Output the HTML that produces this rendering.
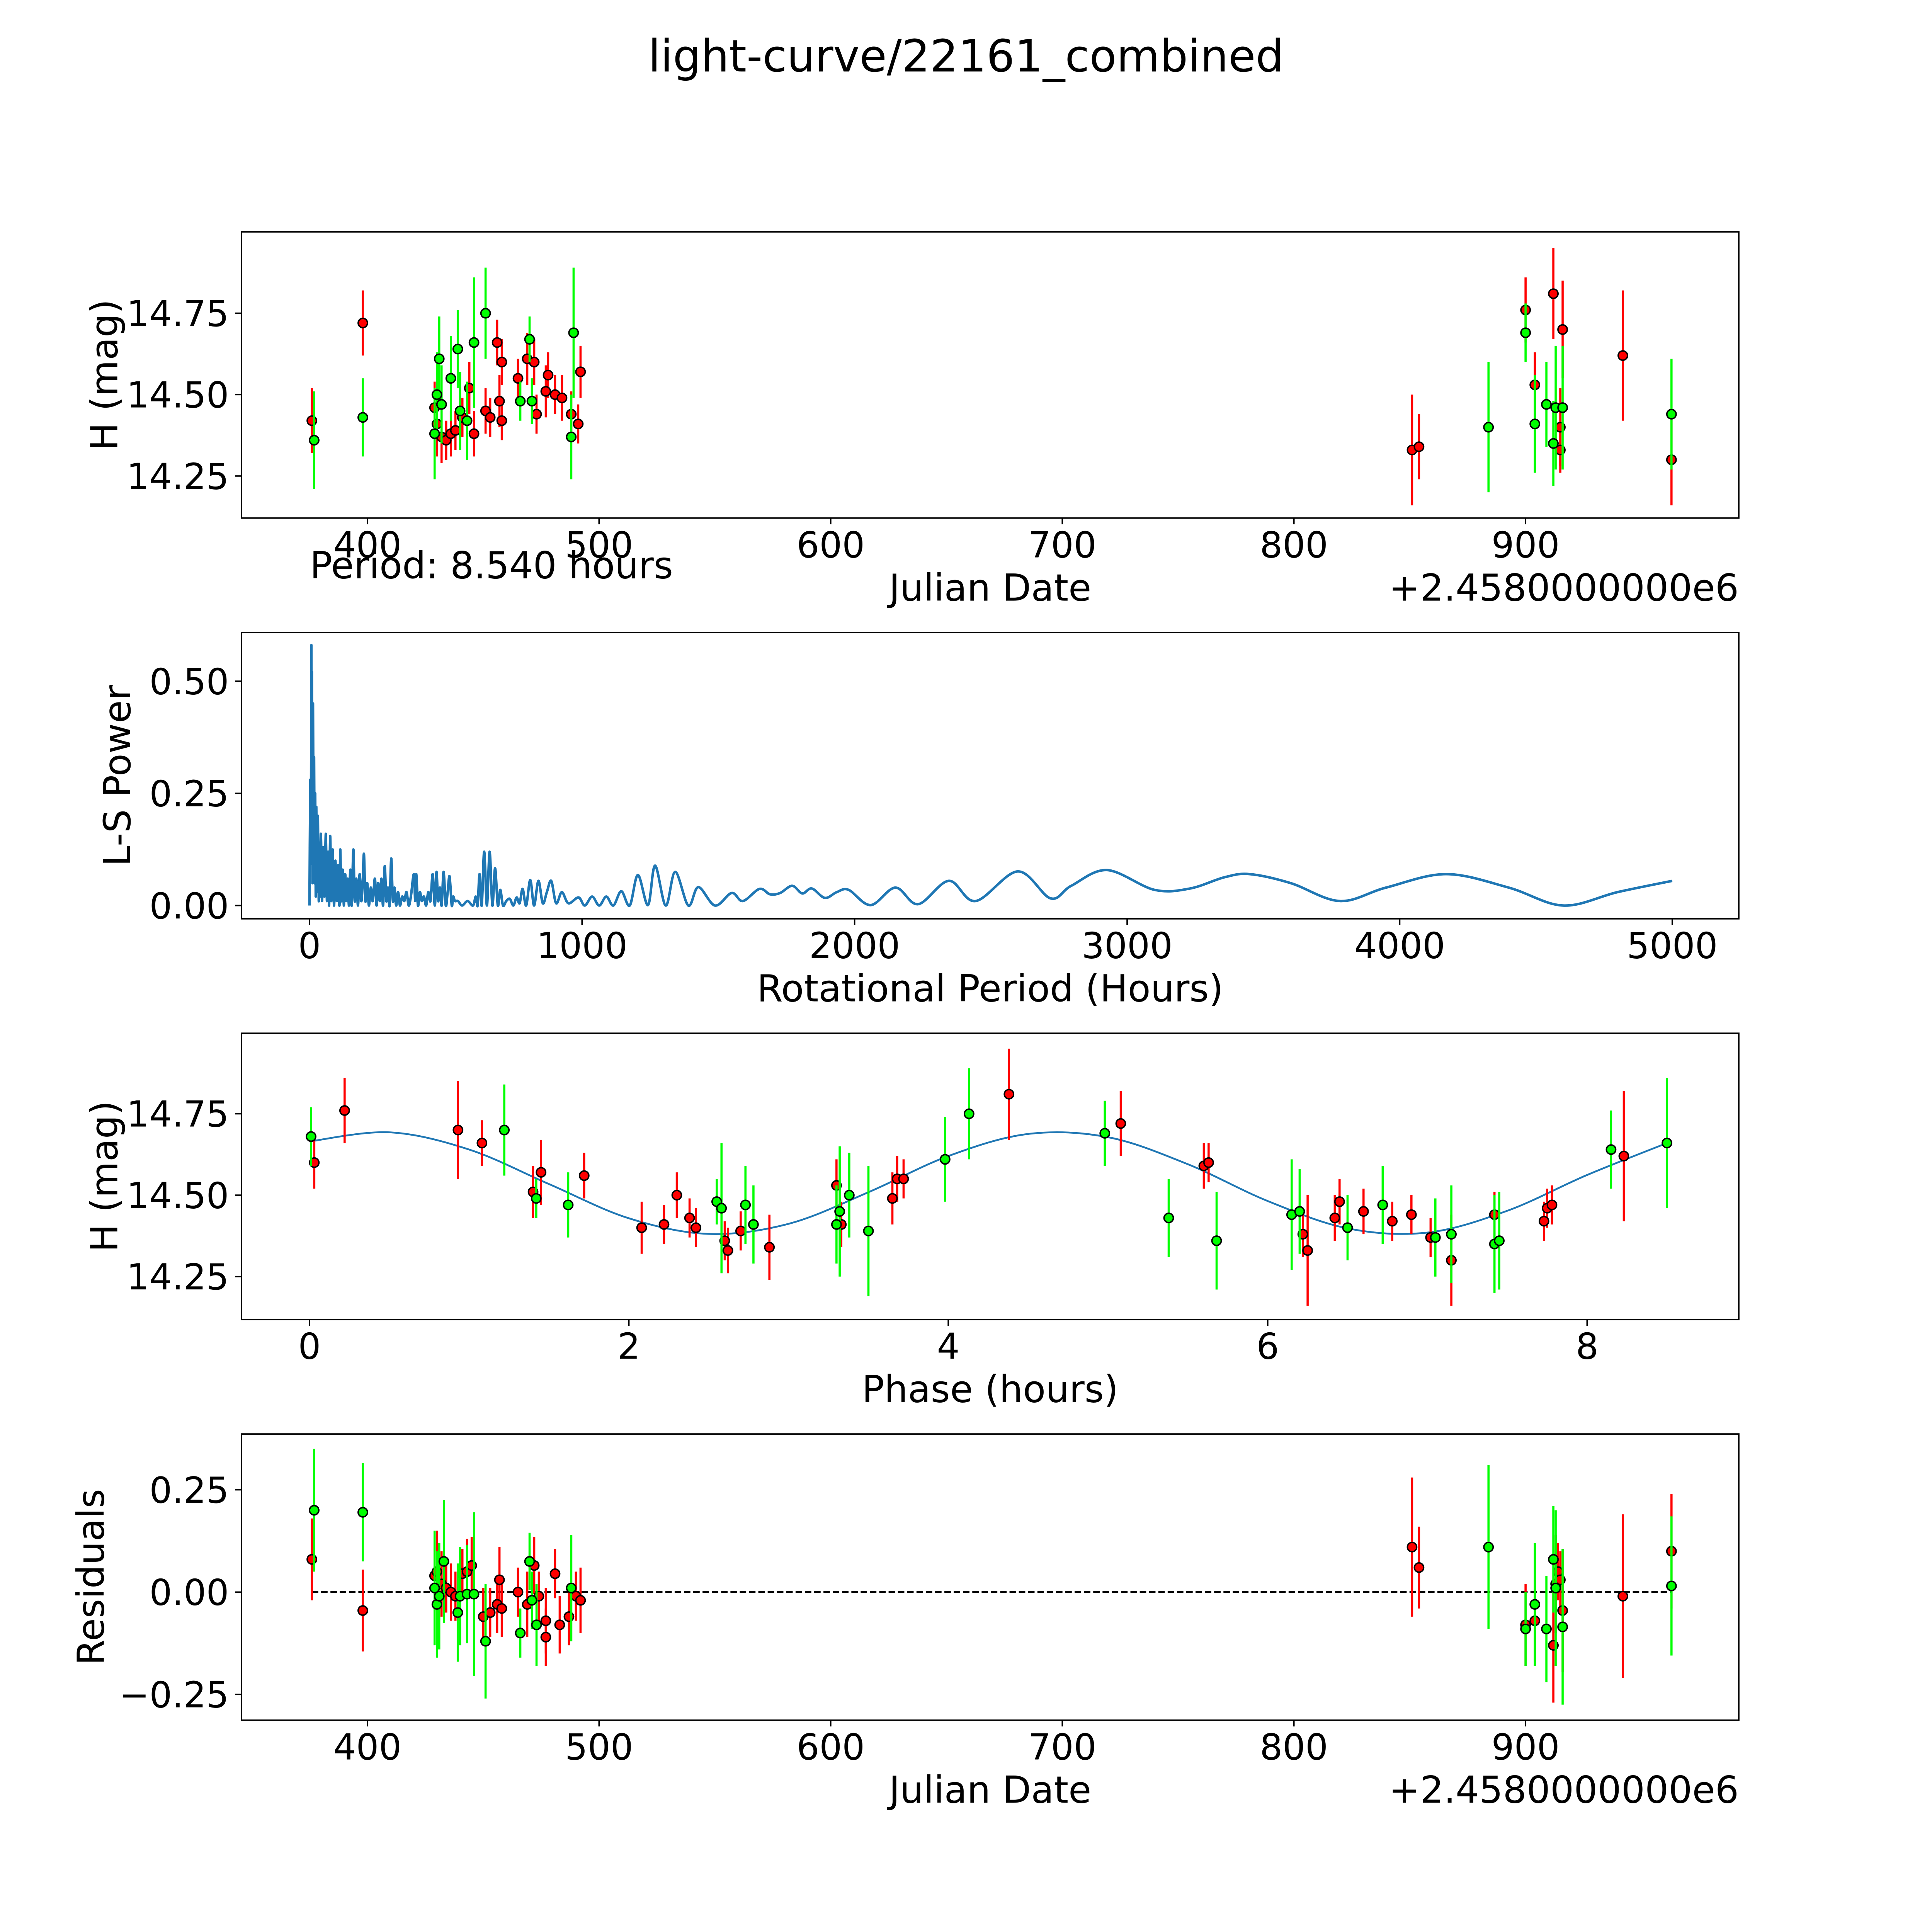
<!DOCTYPE html>
<html><head><meta charset="utf-8"><style>
html,body{margin:0;padding:0;background:#fff;overflow:hidden}
svg{display:block;width:100vw;height:100vh}
text{font-family:"DejaVu Sans","Liberation Sans",sans-serif;fill:#000}
</style></head><body>
<svg id="fig" xmlns="http://www.w3.org/2000/svg" viewBox="0 0 5400 5400" preserveAspectRatio="none">
<rect width="5400" height="5400" fill="#fff"/>
<text x="2700" y="200" font-size="124" text-anchor="middle">light-curve/22161_combined</text>
</svg>
<script>
// ---- Panel 1: light curve (JD offset, H mag, error) ----
const lcRedJd  = [376,398,429,430,432,434,436,438,441,444,446,451,453,456,457,458,458,465,469,472,473,477,478,481,484,488,491,492,851,854,900,904,912,915,916,915,942,963];
const lcRedMag = [14.42,14.72,14.46,14.41,14.37,14.36,14.38,14.39,14.43,14.52,14.38,14.45,14.43,14.66,14.48,14.60,14.42,14.55,14.61,14.60,14.44,14.51,14.56,14.50,14.49,14.44,14.41,14.57,14.33,14.34,14.76,14.53,14.81,14.40,14.70,14.33,14.62,14.30];
const lcRedErr = [.10,.10,.08,.10,.08,.06,.07,.06,.06,.08,.07,.07,.06,.07,.08,.07,.06,.06,.08,.07,.06,.08,.07,.06,.07,.07,.06,.08,.17,.10,.10,.10,.14,.12,.15,.07,.20,.14];
const lcGrnJd  = [377,398,429,430,431,432,436,439,440,443,446,451,466,470,471,488,489,884,900,904,909,912,913,916,963];
const lcGrnMag = [14.36,14.43,14.38,14.50,14.61,14.47,14.55,14.64,14.45,14.42,14.66,14.75,14.48,14.67,14.48,14.37,14.69,14.40,14.69,14.41,14.47,14.35,14.46,14.46,14.44];
const lcGrnErr = [.15,.12,.14,.13,.13,.12,.13,.12,.12,.12,.20,.14,.06,.07,.07,.13,.20,.20,.09,.15,.13,.13,.19,.19,.17];
const jdTicks = [400,500,600,700,800,900];
const magTicks = [14.25,14.50,14.75];
const magTickLabels = ["14.25","14.50","14.75"];

// ---- Panel 2: periodogram ----
const lsPeriod = [
0,3,5,7,8,9,11,13,15,17,
19,21,23,25,28,31,34,37,39,42,
46,50,55,60,64,68,72,76,80,85,
90,95,100,105,110,113,117,122,126,131,
135,140,145,150,155,161,166,172,178,184,
190,195,200,205,212,218,225,232,240,246,
252,258,264,270,276,282,288,294,300,306,
312,318,325,332,340,348,356,364,372,383,
388,392,398,405,412,420,428,436,444,452,
460,466,472,479,485,492,500,507,514,522,
527,534,545,560,580,600,610,617,624,632,
641,651,661,671,681,691,700,710,722,735,
748,760,771,782,795,810,824,840,856,871,
887,905,926,950,987,1010,1037,1063,1089,1115,
1144,1175,1205,1242,1268,1307,1342,1390,1427,1488,
1549,1590,1651,1690,1727,1771,1808,1843,1891,1935,
1978,2059,2150,2233,2346,2444,2599,2719,2795,2926,
3100,3231,3357,3450,3600,3780,3950,4170,4400,4600,
4800,5000];
const lsPower = [
0,0.28,0.1,0.58,0.2,0.52,0.05,0.45,0.12,0.33,
0.05,0.25,0.02,0.22,0.03,0.2,0.01,0.14,0.02,0.16,
0.01,0.13,0.02,0.16,0.01,0.12,0.0,0.155,0.01,0.125,
0.0,0.10,0.01,0.09,0.0,0.125,0.01,0.08,0.0,0.07,
0.01,0.06,0.0,0.08,0.0,0.125,0.01,0.06,0.0,0.07,
0.01,0.05,0.115,0.01,0.05,0.0,0.04,0.01,0.06,0.0,
0.05,0.01,0.06,0.0,0.088,0.01,0.04,0.0,0.105,0.01,
0.04,0.0,0.03,0.0,0.02,0.01,0.03,0.0,0.02,0.07,
0.01,0.07,0.0,0.03,0.01,0.02,0.0,0.03,0.01,0.07,
0.0,0.075,0.01,0.04,0.0,0.075,0.0,0.03,0.065,0.0,
0.02,0.01,0.01,0.0,0.01,0.0,0.02,0.0,0.07,0.0,
0.12,0.0,0.12,0.0,0.083,0.0,0.035,0.0,0.01,0.015,
0.0,0.018,0.005,0.037,0.0,0.057,0.0,0.055,0.005,0.03,
0.055,0.005,0.03,0.005,0.018,0.0,0.02,0.0,0.02,0.0,
0.032,0.0,0.068,0.001,0.089,0.0,0.075,0.0,0.041,0.0,
0.028,0.01,0.037,0.025,0.028,0.044,0.027,0.038,0.017,0.03,
0.035,0.001,0.04,0.003,0.055,0.01,0.076,0.016,0.044,0.079,
0.035,0.038,0.063,0.07,0.05,0.01,0.04,0.07,0.04,0.0,
0.03,0.055];
const lsXTicks = [0,1000,2000,3000,4000,5000];
const lsYTicks = [0,0.25,0.5];
const lsYTickLabels = ["0.00","0.25","0.50"];

// ---- Panel 3: phased ----
const phRed    = [0.03,0.22,0.93,1.08,1.4,1.45,1.72,2.08,2.22,2.3,2.38,2.42,2.6,2.62,2.7,2.88,3.3,3.33,3.65,3.68,3.72,4.38,5.08,5.6,5.63,6.22,6.25,6.42,6.45,6.6,6.78,6.9,7.02,7.15,7.42,7.73,7.75,7.78,8.23];
const phRedMag = [14.60,14.76,14.70,14.66,14.51,14.57,14.56,14.40,14.41,14.50,14.43,14.40,14.36,14.33,14.39,14.34,14.53,14.41,14.49,14.55,14.55,14.81,14.72,14.59,14.60,14.38,14.33,14.43,14.48,14.45,14.42,14.44,14.37,14.30,14.44,14.42,14.46,14.47,14.62];
const phRedErr = [.08,.10,.15,.07,.08,.10,.07,.08,.06,.07,.06,.06,.06,.07,.06,.10,.08,.07,.08,.07,.06,.14,.10,.07,.06,.07,.17,.07,.07,.07,.06,.06,.06,.14,.07,.06,.06,.06,.20];
const phGrn    = [0.01,1.22,1.42,1.62,2.55,2.58,2.73,2.78,3.3,3.32,3.38,3.5,3.98,4.13,4.98,5.38,5.68,6.15,6.2,6.5,6.72,7.05,7.15,7.42,7.45,8.15,8.5];
const phGrnMag = [14.68,14.70,14.49,14.47,14.48,14.46,14.47,14.41,14.41,14.45,14.50,14.39,14.61,14.75,14.69,14.43,14.36,14.44,14.45,14.40,14.47,14.37,14.38,14.35,14.36,14.64,14.66];
const phGrnErr = [.09,.14,.06,.10,.07,.20,.12,.12,.12,.20,.13,.20,.13,.14,.10,.12,.15,.17,.13,.10,.12,.12,.15,.15,.15,.12,.20];
const fitPhase = [0,0.5,1,1.5,2,2.5,3,3.5,4,4.5,5,5.5,6,6.5,7,7.5,8,8.5];
const fitMag   = [14.665,14.693,14.640,14.534,14.429,14.381,14.412,14.509,14.620,14.688,14.678,14.595,14.482,14.398,14.385,14.452,14.562,14.660];
const phXTicks = [0,2,4,6,8];

// ---- Panel 4: residuals ----
const rsRedJd  = [376,398,429,430,432,434,436,438,441,443,445,450,453,456,457,458,465,469,472,474,477,477,481,483,487,490,492,851,854,900,904,912,913,914,915,916,942,963];
const rsRedVal = [.08,-.045,.04,.05,.02,.01,0,-.01,.045,.05,.065,-.06,-.05,-.03,.03,-.04,0,-.03,.065,-.01,-.07,-.11,.045,-.08,-.06,-.01,-.02,.11,.06,-.08,-.07,-.13,.02,.05,.03,-.045,-.01,.10];
const rsRedErr = [.10,.10,.08,.10,.08,.06,.07,.06,.06,.08,.07,.07,.06,.07,.08,.07,.06,.08,.07,.06,.08,.07,.06,.07,.07,.06,.08,.17,.10,.10,.10,.14,.12,.07,.07,.15,.20,.14];
const rsGrnJd  = [377,398,429,430,431,433,439,440,443,446,451,466,470,471,473,488,884,900,904,909,912,913,916,963];
const rsGrnVal = [.20,.195,.01,-.03,-.01,.075,-.05,-.01,-.005,-.005,-.12,-.10,.075,-.02,-.08,.01,.11,-.09,-.03,-.09,.08,.01,-.085,.015];
const rsGrnErr = [.15,.12,.14,.13,.13,.15,.12,.12,.12,.20,.14,.06,.07,.07,.10,.13,.20,.09,.15,.13,.13,.19,.19,.17];
const rsYTicks = [-0.25,0,0.25];
const rsYTickLabels = ["\u22120.25","0.00","0.25"];

const NS="http://www.w3.org/2000/svg";
const svg=document.getElementById('fig');
const L=675,R=4860,H=800,FS=104,TFS=100;
function mk(tag,attrs,parent){const e=document.createElementNS(NS,tag);for(const k in attrs)e.setAttribute(k,attrs[k]);(parent||svg).appendChild(e);return e;}
function lin(d0,p0,d1,p1){return v=>p0+(v-d0)*(p1-p0)/(d1-d0);}

function panel(name,pt,xs,ys,xticks,xlabels,yticks,ylabels,xlabel,ylabel,ylx){
  const g=mk('g',{});
  
  
  const clip=mk('clipPath',{id:'clip-'+name},g);mk('rect',{x:L,y:pt,width:R-L,height:H},clip);
  const plot=mk('g',{'clip-path':'url(#clip-'+name+')'},g);
  
  
  const fr=mk('rect',{x:L,y:pt,width:R-L,height:H,fill:'none',stroke:'#000','stroke-width':4},g);
  
  
  xticks.forEach((t,i)=>{const x=xs(t);
    mk('line',{x1:x,x2:x,y1:pt+H,y2:pt+H+17.5,stroke:'#000','stroke-width':4},g);
    const tx=mk('text',{x:x,y:pt+H+110,'font-size':TFS,'text-anchor':'middle'},g);tx.textContent=xlabels[i];
    
    });
  yticks.forEach((t,i)=>{const y=ys(t);
    mk('line',{x1:L-17.5,x2:L,y1:y,y2:y,stroke:'#000','stroke-width':4},g);
    const tx=mk('text',{x:L-35,y:y+36,'font-size':TFS,'text-anchor':'end'},g);tx.textContent=ylabels[i];
    
    });
  const xl=mk('text',{x:(L+R)/2,y:pt+H+231,'font-size':FS,'text-anchor':'middle'},g);xl.textContent=xlabel;
  
  
  const yl=mk('text',{x:0,y:0,'font-size':FS,'text-anchor':'middle',transform:'translate('+(ylx+28)+','+(pt+H/2)+') rotate(-90)'},g);yl.textContent=ylabel;
  
  
  return {g,plot};
}
function errpts(plot,xs,ys,X,Y,E,color,name){
  X.forEach((v,i)=>{const x=xs(v);
    const l=mk('line',{x1:x,x2:x,y1:ys(Y[i]-E[i]),y2:ys(Y[i]+E[i]),stroke:color,'stroke-width':6},plot);
    
    });
  X.forEach((v,i)=>{
    const c=mk('circle',{cx:xs(v),cy:ys(Y[i]),r:13,fill:color,stroke:'#000','stroke-width':4},plot);
    
    });
}
function catmull(pts){let d='M'+pts[0][0]+','+pts[0][1];
  for(let i=0;i<pts.length-1;i++){const p0=pts[Math.max(0,i-1)],p1=pts[i],p2=pts[i+1],p3=pts[Math.min(pts.length-1,i+2)];
    d+=' C'+(p1[0]+(p2[0]-p0[0])/6)+','+(p1[1]+(p2[1]-p0[1])/6)+' '+(p2[0]-(p3[0]-p1[0])/6)+','+(p2[1]-(p3[1]-p1[1])/6)+' '+p2[0]+','+p2[1];}
  return d;}

// Panel 1
let pTop=648;
let xs=lin(400,1027,900,4264), ys=lin(14.25,pTop+682.5,14.75,pTop+227.5);
let P=panel('light-curve-panel',pTop,xs,ys,jdTicks,jdTicks.map(String),magTicks,magTickLabels,'Julian Date','H (mag)',300);
errpts(P.plot,xs,ys,lcRedJd,lcRedMag,lcRedErr,'#ff0000','lc-red');
errpts(P.plot,xs,ys,lcGrnJd,lcGrnMag,lcGrnErr,'#00ff00','lc-green');
let off=mk('text',{x:R,y:pTop+H+231,'font-size':FS,'text-anchor':'end'});off.textContent='+2.4580000000e6';


let per=mk('text',{x:866,y:1616,'font-size':FS});per.textContent='Period: 8.540 hours';



// Panel 2
pTop=1768;
xs=lin(0,865,5000,4674); ys=lin(0,2531,0.5,1904);
P=panel('periodogram-panel',pTop,xs,ys,lsXTicks,lsXTicks.map(String),lsYTicks,lsYTickLabels,'Rotational Period (Hours)','L-S Power',336);
const nLs=Math.min(lsPeriod.length,lsPower.length);
const lsPts=[];
for(let i=0;i<nLs;i++) lsPts.push([xs(lsPeriod[i]),ys(lsPower[i])]);
const lp=mk('path',{d:catmull(lsPts),fill:'none',stroke:'#1f77b4','stroke-width':7,'stroke-linejoin':'round'},P.plot);



// Panel 3
pTop=2888;
xs=lin(0,865,8,4436); ys=lin(14.25,pTop+680,14.75,pTop+225);
P=panel('phased-panel',pTop,xs,ys,phXTicks,phXTicks.map(String),magTicks,magTickLabels,'Phase (hours)','H (mag)',300);
const fp=mk('path',{d:catmull(fitPhase.map((p,i)=>[xs(p),ys(fitMag[i])])),fill:'none',stroke:'#1f77b4','stroke-width':5},P.plot);


errpts(P.plot,xs,ys,phRed,phRedMag,phRedErr,'#ff0000','phase-red');
errpts(P.plot,xs,ys,phGrn,phGrnMag,phGrnErr,'#00ff00','phase-green');

// Panel 4
pTop=4008;
xs=lin(400,1027,900,4264); ys=lin(0,4450,0.25,4164);
P=panel('residuals-panel',pTop,xs,ys,jdTicks,jdTicks.map(String),rsYTicks,rsYTickLabels,'Julian Date','Residuals',262);
const zl=mk('line',{x1:xs(376),x2:xs(963),y1:ys(0),y2:ys(0),stroke:'#000','stroke-width':5,'stroke-dasharray':'18,8'},P.plot);


errpts(P.plot,xs,ys,rsRedJd,rsRedVal,rsRedErr,'#ff0000','resid-red');
errpts(P.plot,xs,ys,rsGrnJd,rsGrnVal,rsGrnErr,'#00ff00','resid-green');
off=mk('text',{x:R,y:pTop+H+231,'font-size':FS,'text-anchor':'end'});off.textContent='+2.4580000000e6';


</script>
</body></html>
